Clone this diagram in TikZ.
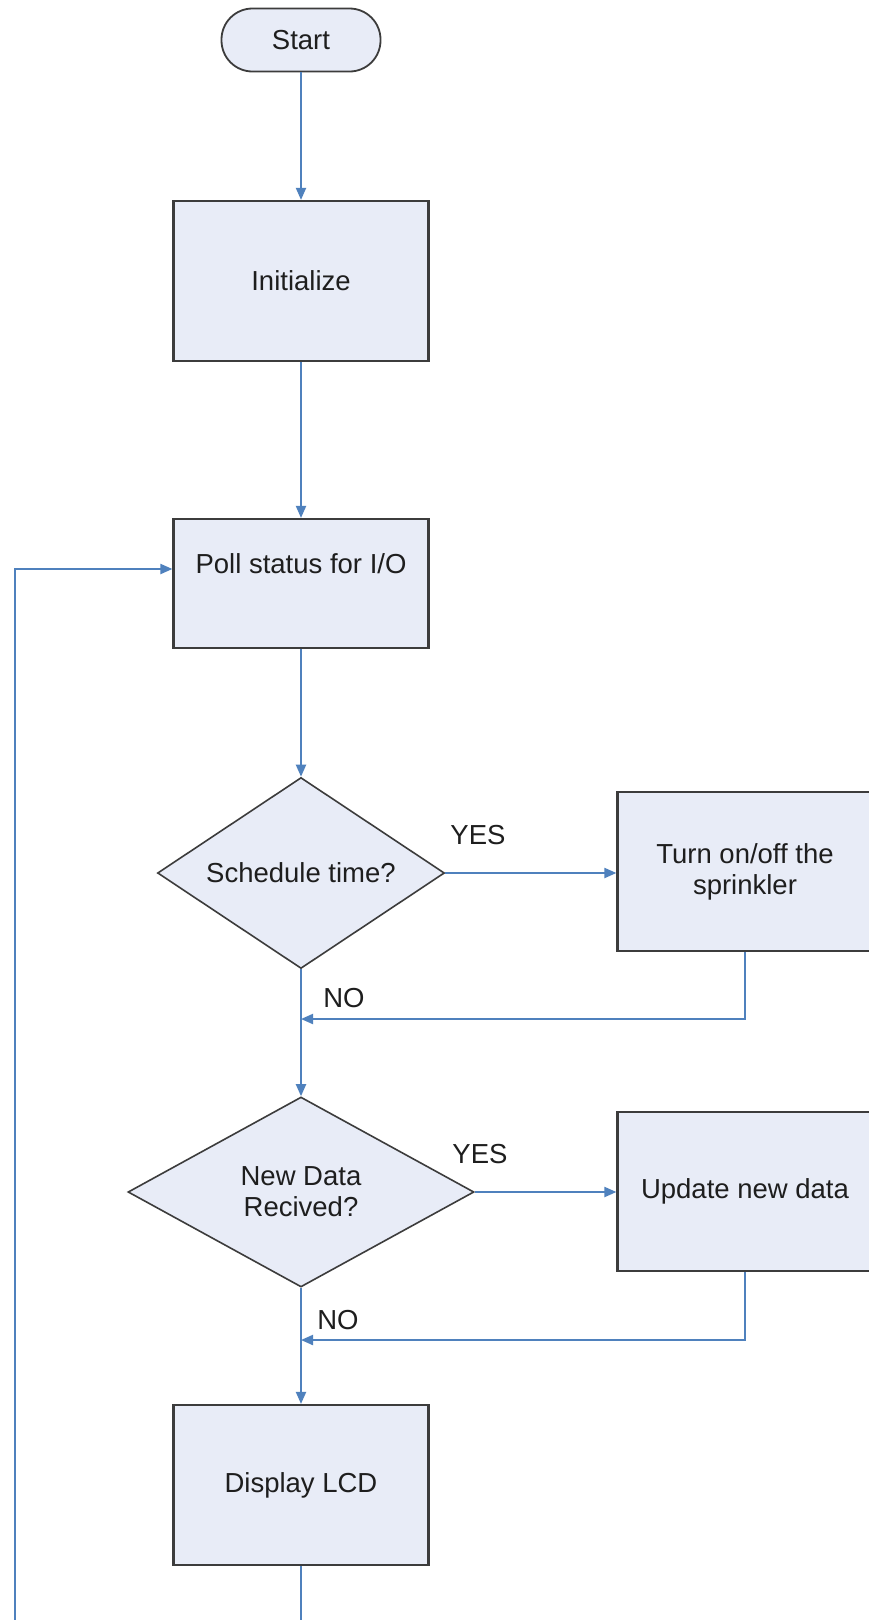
\documentclass[tikz,border=0pt]{standalone}
\usepackage{fontspec}
\setmainfont{Liberation Sans}
\usetikzlibrary{shapes.geometric,arrows.meta}
\newlength{\du}
\setlength{\du}{1pt}
\definecolor{boxfill}{RGB}{232,236,247}
\definecolor{boxline}{RGB}{60,60,60}
\definecolor{flowline}{RGB}{79,129,189}
\definecolor{textcolor}{RGB}{30,30,30}
\tikzset{
  box/.style={rectangle, draw=boxline, fill=boxfill, line width=2.2\du,
    minimum width=255\du, minimum height=160\du, inner sep=0pt, align=center},
  decision/.style={diamond, aspect=1.8, draw=boxline, fill=boxfill,
    line width=1.6\du, inner sep=0pt, align=center},
  terminal/.style={rectangle, rounded corners=31\du, draw=boxline, fill=boxfill,
    line width=1.8\du, minimum width=159\du, minimum height=63\du, inner sep=0pt},
  flow/.style={draw=flowline, line width=2\du, -{Triangle[length=12pt,width=10pt]}}
}

\begin{document}
\begin{tikzpicture}[x=1\du, y=-1\du, font=\fontsize{27.5}{31}\selectfont, text=textcolor]
\clip (0,0) rectangle (869,1620);
\fill[white] (0,0) rectangle (869,1620);
% main column
\node[terminal] (start) at (301,40) {Start};
\node[box] (init) at (301,281) {Initialize};
\node[box, minimum height=129\du, text height=20\du, text depth=40\du] (poll) at (301,583.5) {Poll status for I/O};
\node[decision, minimum width=287\du, minimum height=191\du] (sched) at (301,873) {Schedule time?};
\node[decision, minimum width=346\du, minimum height=190\du] (newdata) at (301,1192) {New Data\\Recived?};
\node[box] (lcd) at (301,1485) {Display LCD};
% right column
\node[box, minimum height=159\du] (sprinkler) at (745,871.5) {Turn on/off the\\sprinkler};
\node[box, minimum height=159\du] (update) at (745,1191.5) {Update new data};
% join points
\coordinate (join1) at (301,1019);
\coordinate (join2) at (301,1340);
\coordinate (loopdown) at (301,1660);
\coordinate (loopleft) at (15,1660);
% connectors
\draw[flow] (start) -- (init);
\draw[flow] (init) -- (poll);
\draw[flow] (poll) -- (sched);
\draw[flow] (sched) -- (sprinkler.west |- sched.east);
\draw[flow] (sched) -- (newdata);
\draw[flow] (sprinkler) |- (join1);
\draw[flow] (newdata) -- (lcd);
\draw[flow] (update) |- (join2);
\draw[flow] (newdata) -- (update.west |- newdata.east);
\draw[flow] (lcd) -- (loopdown) -- (loopleft) |- (poll.west |- 0,569);
% labels
\node (yes1) at (478,835) {YES};
\node (no1) at (344,998) {NO};
\node (yes2) at (480,1154) {YES};
\node (no2) at (338,1320) {NO};
\end{tikzpicture}
\end{document}
